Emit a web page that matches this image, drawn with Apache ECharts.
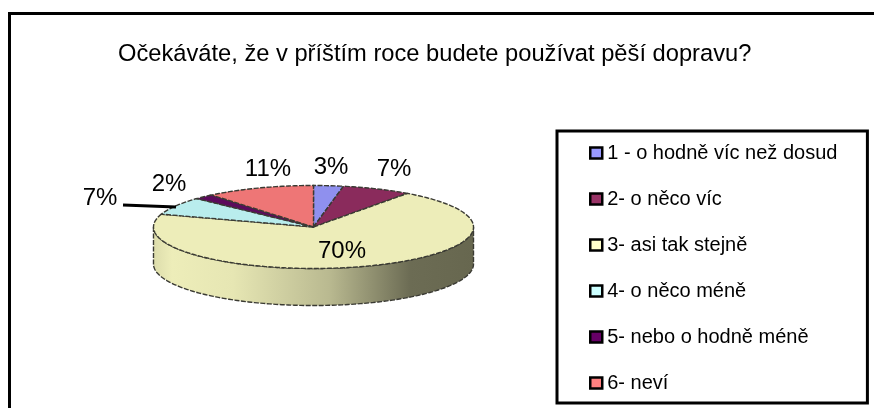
<!DOCTYPE html>
<html><head><meta charset="utf-8">
<style>html,body{margin:0;padding:0;background:#fff}#c{width:874px;height:408px}</style>
<script src="https://cdn.jsdelivr.net/npm/echarts@6/dist/echarts.min.js"></script>
</head><body><div id="c"></div>
<script>
const categories = ['1 - o hodně víc než dosud','2- o něco víc','3- asi tak stejně','4- o něco méně','5- nebo o hodně méně','6- neví'];
const values = [3,7,70,7,2,11];
const topColors = ['#8f90ee','#8a2b5c','#ededb9','#b9eded','#5c0a5c','#ee7676'];
const legendColors = ['#9999ff','#993366','#ffffcc','#ccffff','#660066','#ff8080'];
const labelText = ['3%','7%','70%','7%','2%','11%'];

const FONT = '"Liberation Sans", Arial, sans-serif';
const CX = 313.5, CY = 227, RX = 160, RY = 41.5, DEPTH = 37;
const labelAt = [[331,167],[394,169],[342,251],[100,198],[169,184],[268,169]];
const total = values.reduce((a,b)=>a+b,0);
const pt = (t,dy=0)=>[CX+RX*Math.sin(t), CY-RY*Math.cos(t)+dy];
function arcPts(a,b,dy=0){const n=Math.max(2,Math.ceil(Math.abs(b-a)/0.02));const r=[];for(let i=0;i<=n;i++)r.push(pt(a+(b-a)*i/n,dy));return r;}
const edge = {stroke:'#3a3a33',lineWidth:1.4,lineDash:[5,1.5]};

function renderSlice(idx){
  return function(params,api){
    const before = values.slice(0,idx).reduce((a,b)=>a+b,0);
    const a0 = before/total*2*Math.PI, a1 = (before+api.value(0))/total*2*Math.PI;
    const children = [];
    const f0 = Math.max(a0,Math.PI/2), f1 = Math.min(a1,3*Math.PI/2);
    if(f1>f0){
      const top = arcPts(f0,f1), bottom = arcPts(f1,f0,DEPTH);
      children.push({type:'polygon',shape:{points:top.concat(bottom)},
        style:{...edge,fill:new echarts.graphic.LinearGradient(0,0,1,0,[
          {offset:0,color:'#dcdcab'},{offset:0.06,color:'#ededb9'},{offset:0.25,color:'#e6e6b3'},
          {offset:0.55,color:'#b9b990'},{offset:0.8,color:'#6c6c54'},{offset:1,color:'#67674f'}])}});
    }
    children.push({type:'polygon',shape:{points:[[CX,CY]].concat(arcPts(a0,a1))},
      style:{...edge,fill:topColors[idx]}});
    return {type:'group',children};
  };
}
function renderLabel(idx){
  return function(){
    return {type:'text',style:{text:labelText[idx],x:labelAt[idx][0],y:labelAt[idx][1],
      align:'center',verticalAlign:'middle',font:'24px '+FONT,fill:'#000'}};
  };
}
const series = categories.map((name,i)=>({
  name,type:'custom',coordinateSystem:'none',silent:true,z:2,animation:false,
  itemStyle:{color:legendColors[i]},
  data:[[values[i]]],renderItem:renderSlice(i),clip:false
}));
categories.forEach((name,i)=>series.push({
  type:'custom',coordinateSystem:'none',silent:true,z:5,animation:false,
  data:[[values[i]]],renderItem:renderLabel(i)
}));

const chart = echarts.init(document.getElementById('c'),null,{renderer:'canvas'});
chart.setOption({
  animation:false,
  backgroundColor:'#fff',
  title:{text:'Očekáváte, že v příštím roce budete používat pěší dopravu?',left:118,top:42,padding:0,
    textStyle:{fontFamily:FONT,fontSize:23.7,fontWeight:'normal',color:'#000'}},
  legend:{
    orient:'vertical',left:557,top:131,
    padding:[12,30,10,32],itemGap:26,itemWidth:12,itemHeight:11,
    borderColor:'#000',borderWidth:3,backgroundColor:'#fff',selectedMode:false,
    icon:'rect',
    itemStyle:{borderColor:'#000',borderWidth:2.5},
    data:categories,
    textStyle:{fontFamily:FONT,fontSize:20,color:'#000',padding:0}
  },
  graphic:[
    {type:'line',z:1,shape:{x1:9.5,y1:13.5,x2:874,y2:13.5},style:{stroke:'#000',lineWidth:3}},
    {type:'line',z:1,shape:{x1:9.5,y1:12,x2:9.5,y2:408},style:{stroke:'#000',lineWidth:3}},
    {type:'line',z:6,shape:{x1:123,y1:205,x2:176,y2:207},style:{stroke:'#000',lineWidth:3}}
  ],
  series
});
</script></body></html>
